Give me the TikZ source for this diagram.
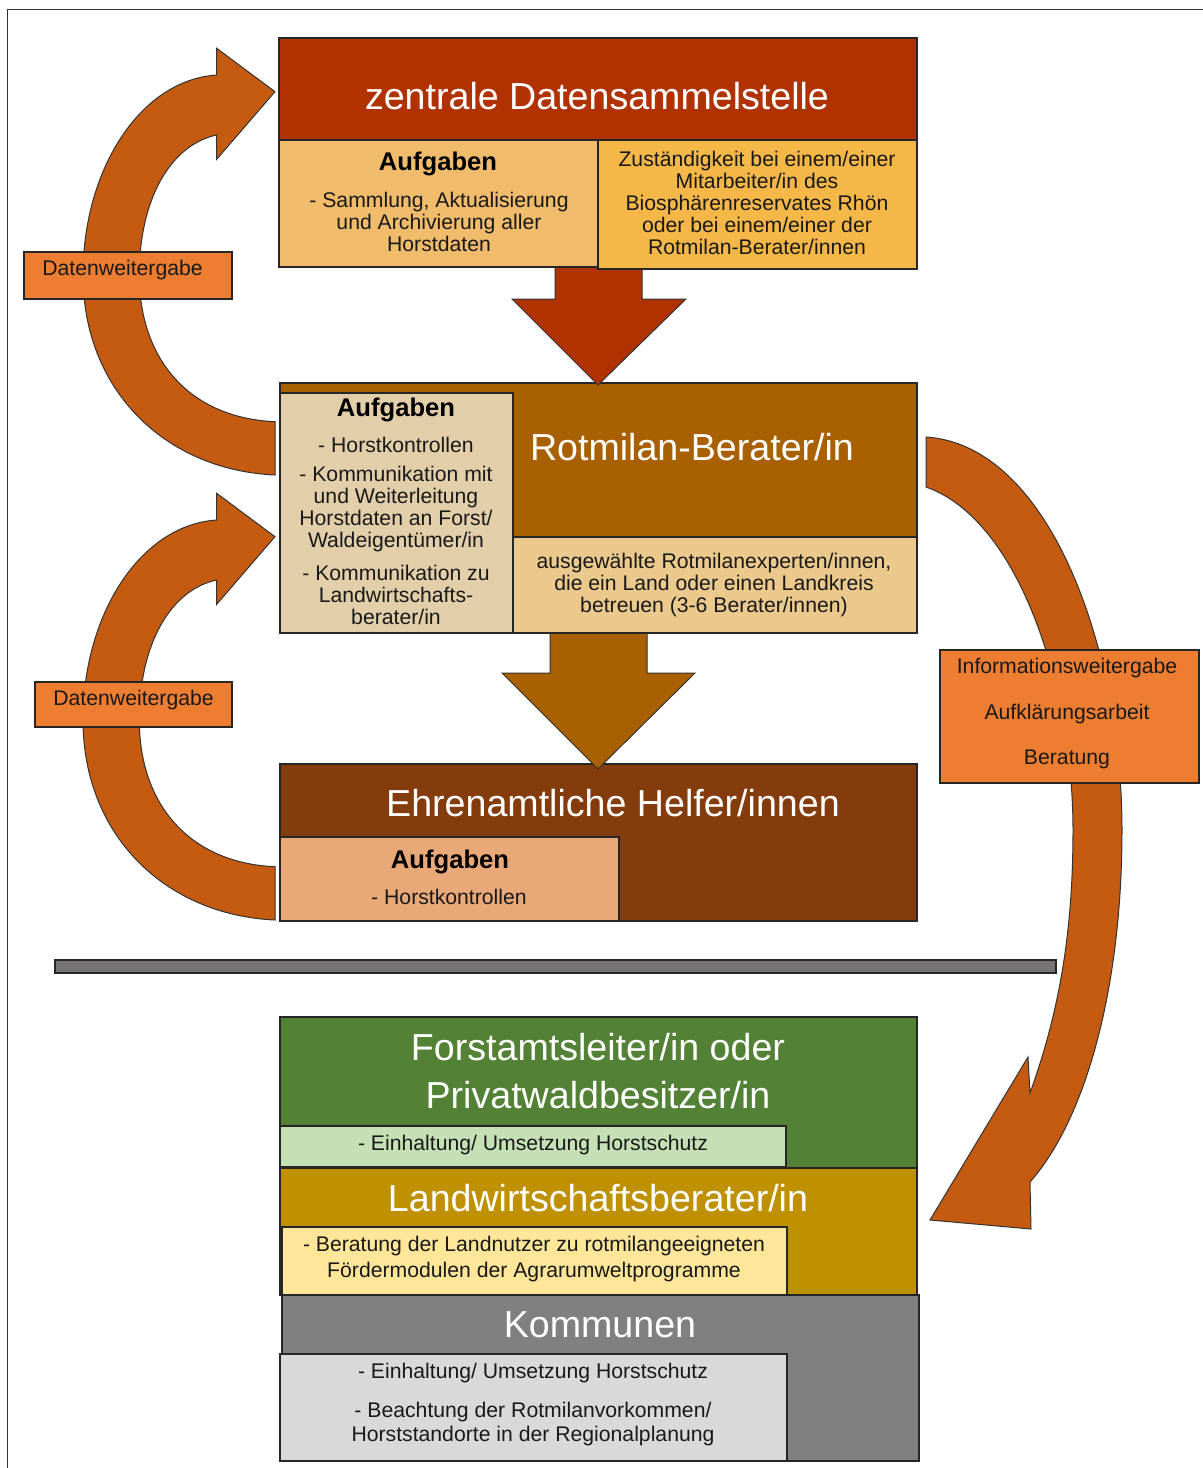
\documentclass[tikz,border=0pt]{standalone}
\usepackage{fontspec}
\setmainfont{Liberation Sans}
\definecolor{topT}{RGB}{176,50,0}
\definecolor{topL}{RGB}{240,188,108}
\definecolor{topR}{RGB}{245,184,72}
\definecolor{midC}{RGB}{168,96,0}
\definecolor{midL}{RGB}{226,207,169}
\definecolor{midR}{RGB}{235,201,140}
\definecolor{ehrC}{RGB}{132,60,12}
\definecolor{ehrL}{RGB}{233,168,119}
\definecolor{arrC}{RGB}{197,90,17}
\definecolor{labC}{RGB}{237,125,49}
\definecolor{forC}{RGB}{83,129,53}
\definecolor{forL}{RGB}{197,224,180}
\definecolor{lanC}{RGB}{191,144,0}
\definecolor{lanL}{RGB}{255,230,153}
\definecolor{komC}{RGB}{128,128,128}
\definecolor{komL}{RGB}{217,217,217}
\definecolor{sepC}{RGB}{118,116,116}
\begin{document}
\begin{tikzpicture}[x=0.5pt,y=-0.5pt,
  box/.style={draw=black!85,line width=0.6pt},
  bigarrow/.style={draw=black!80,line width=0.5pt,line join=miter},
  titletext/.style={text=white,font=\fontsize{18.8}{24}\selectfont,inner sep=0pt,align=center},
  smalltext/.style={text=black!90,font=\fontsize{10.6}{11}\selectfont,inner sep=0pt,align=center},
  headtext/.style={text=black,font=\fontsize{12.8}{14}\selectfont\bfseries,inner sep=0pt},
  labelbox/.style={box,fill=labC}]
\useasboundingbox (0,0) rectangle (1203,1468);
\draw[black!80,line width=0.5pt] (7.5,1468) -- (7.5,9.5) -- (1203,9.5);

% ---- left curved arrows
\foreach \dy in {0,445}{
\begin{scope}[shift={(0,\dy)}]
\filldraw[bigarrow,fill=arrC] (275,475) .. controls (165,470) and (83,390) .. (83,275)
  .. controls (83,170) and (140,80) .. (216.7,75)
  -- (216.7,48.3) -- (275,91.7) -- (216.7,159.3) -- (216.7,135)
  .. controls (170,145) and (139.3,200) .. (139.3,275)
  .. controls (139.3,360) and (190,418) .. (275,421.7) -- cycle;
\end{scope}}
\path[labelbox] (24,252) rectangle (232,299);
\node[smalltext,anchor=west] (lab1) at (42,270) {Datenweitergabe};
\path[labelbox] (35,682) rectangle (232,727);
\node[smalltext,anchor=west] (lab2) at (53,700) {Datenweitergabe};

% ---- right curved arrow
\filldraw[bigarrow,fill=arrC] (926,437) .. controls (1050,445) and (1122,650) .. (1122,830)
  .. controls (1122,990) and (1085,1120) .. (1030,1182)
  -- (1031,1229) -- (930,1220) -- (1028,1057) -- (1030,1093)
  .. controls (1060,1010) and (1073,930) .. (1073,830)
  .. controls (1073,690) and (1020,520) .. (926,487) -- cycle;
\path[labelbox] (940,650) rectangle (1199,783);
\node[smalltext] (inf1) at (1067,668) {Informationsweitergabe};
\node[smalltext] (inf2) at (1067,714) {Aufklärungsarbeit};
\node[smalltext] (inf3) at (1067,759) {Beratung};

% ---- Ehrenamtliche
\path[box,fill=ehrC] (280,764) rectangle (917,921);
\path[box,fill=ehrL] (280,837) rectangle (619,921);
\node[titletext] (ehr) at (613,803) {Ehrenamtliche Helfer/innen};
\node[headtext] (ehrA) at (450,862) {Aufgaben};
\node[smalltext] (ehrB) at (449,897) {- Horstkontrollen};

% ---- arrow 2
\filldraw[bigarrow,fill=midC] (550,630) -- (647,630) -- (647,673) -- (695,673) -- (598,769) -- (502,673) -- (550,673) -- cycle;

% ---- middle box
\path[box,fill=midC] (280,383) rectangle (917,633);
\path[box,fill=midL] (280,393) rectangle (513,633);
\path[box,fill=midR] (513,537) rectangle (917,633);
\node[titletext] (mid) at (692,447) {Rotmilan-Berater/in};
\node[headtext] (midA) at (396,410) {Aufgaben};
\node[smalltext] (midB) at (396,445) {- Horstkontrollen};
\node[smalltext] (midC1) at (396,509) {- Kommunikation mit\\und Weiterleitung\\Horstdaten an Forst/\\Waldeigentümer/in};
\node[smalltext] (midD) at (396,595) {- Kommunikation zu\\Landwirtschafts-\\berater/in};
\node[smalltext] (midE) at (714,585) {ausgewählte Rotmilanexperten/innen,\\die ein Land oder einen Landkreis\\betreuen (3-6 Berater/innen)};

% ---- arrow 1
\filldraw[bigarrow,fill=topT] (555,262) -- (642,262) -- (642,299) -- (686,299) -- (598,385) -- (512,299) -- (555,299) -- cycle;

% ---- top box
\path[box,fill=topT] (279,38) rectangle (917,140);
\path[box,fill=topL] (279,140) rectangle (598,267);
\path[box,fill=topR] (598,140) rectangle (917,269);
\node[titletext] (top) at (597,96) {zentrale Datensammelstelle};
\node[headtext] (topA) at (438,164) {Aufgaben};
\node[smalltext] (topB) at (439,222) {- Sammlung, Aktualisierung\\und Archivierung aller\\Horstdaten};
\node[smalltext] (topC) at (757,203) {Zuständigkeit bei einem/einer\\Mitarbeiter/in des\\Biosphärenreservates Rhön\\oder bei einem/einer der\\Rotmilan-Berater/innen};

% ---- separator
\path[box,fill=sepC] (55,960) rectangle (1056,973);

% ---- Forst
\path[box,fill=forC] (280,1017) rectangle (917,1168);
\path[box,fill=forL] (280,1126) rectangle (786,1167);
\node[titletext] (for) at (598,1071) {Forstamtsleiter/in oder\\Privatwaldbesitzer/in};
\node[smalltext] (forB) at (533,1145) {- Einhaltung/ Umsetzung Horstschutz};

% ---- Landwirtschaft
\path[box,fill=lanC] (280,1168) rectangle (917,1295);
\path[box,fill=lanL] (282,1227) rectangle (787,1295);
\node[titletext] (lan) at (598,1198) {Landwirtschaftsberater/in};
\node[smalltext,font=\fontsize{10.6}{13}\selectfont] (lanB) at (534,1259) {- Beratung der Landnutzer zu rotmilangeeigneten\\Fördermodulen der Agrarumweltprogramme};

% ---- Kommunen
\path[box,fill=komC] (282,1295) rectangle (919,1461);
\path[box,fill=komL] (280,1354) rectangle (787,1461);
\node[titletext] (kom) at (600,1325) {Kommunen};
\node[smalltext] (komB) at (533,1373) {- Einhaltung/ Umsetzung Horstschutz};
\node[smalltext,font=\fontsize{10.6}{12}\selectfont] (komC1) at (533,1424) {- Beachtung der Rotmilanvorkommen/\\Horststandorte in der Regionalplanung};
\end{tikzpicture}
\end{document}
